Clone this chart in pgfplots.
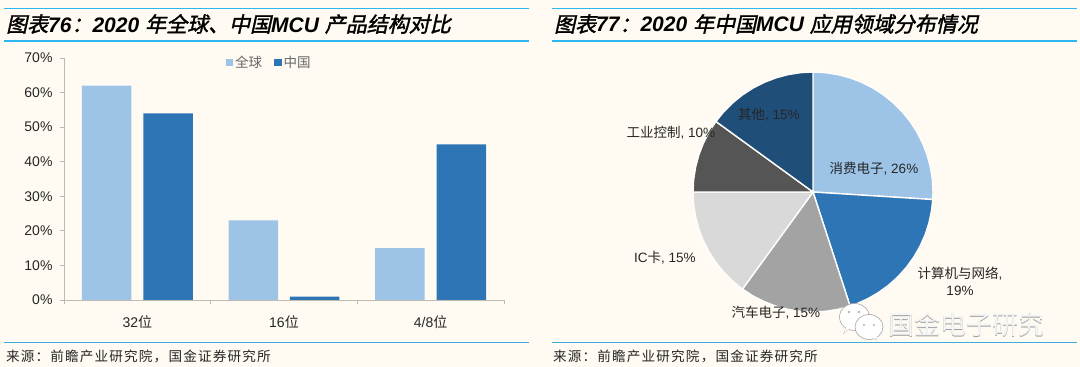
\documentclass[border=0pt]{standalone}
\usepackage{fontspec}
\usepackage{pgfplots}
\pgfplotsset{compat=1.18}
\setmainfont{Liberation Sans}
\newfontfamily\cjk{Noto Sans CJK SC}
\newfontfamily\cjktitle[FakeSlant=0.22,FakeBold=1.6]{Noto Sans CJK SC}
\newfontfamily\cjkspaced[LetterSpace=8.5]{Noto Sans CJK SC}
\definecolor{bgc}{HTML}{FFFBF2}
\definecolor{rulec}{HTML}{2DB7F0}
\definecolor{lightb}{HTML}{9DC3E6}
\definecolor{darkb}{HTML}{2E75B6}
\definecolor{navy}{HTML}{1F4E79}
\definecolor{gmid}{HTML}{A3A3A3}
\definecolor{glight}{HTML}{D9D9D9}
\definecolor{gdark}{HTML}{555555}
\definecolor{axisc}{HTML}{BDBAB2}
\definecolor{txt}{HTML}{262626}
\newcommand{\TT}[1]{{\cjktitle #1}}
\newcommand{\TL}[1]{{\bfseries\itshape #1}}
\begin{document}
\begin{tikzpicture}[x=1pt,y=1pt]
\path[use as bounding box,fill=bgc] (0,0) rectangle (1080,367);
% rules
\foreach \a/\b in {4/529,552/1077}{
  \draw[rulec,line width=1.2pt] (\a,358.5) -- (\b,358.5);
  \draw[rulec,line width=1.1pt] (\a,326) -- (\b,326);
  \draw[rulec!80!gray,line width=0.8pt] (\a,25) -- (\b,25);
}
% titles
\node[anchor=west,inner sep=0,font=\fontsize{21}{23}\selectfont,text=black] at (6,343)
 {\TT{图表}\TL{76}\TT{：}\TL{2020 }\TT{年全球、中国}\TL{MCU }\TT{产品结构对比}};
\node[anchor=west,inner sep=0,font=\fontsize{21}{23}\selectfont,text=black] at (554,343)
 {\TT{图表}\TL{77}\TT{：}\TL{2020 }\TT{年中国}\TL{MCU }\TT{应用领域分布情况}};
% sources
\node[anchor=west,inner sep=0,text=txt,font=\fontsize{13.6}{15}\selectfont] at (6,11) {\cjkspaced 来源：前瞻产业研究院，国金证券研究所};
\node[anchor=west,inner sep=0,text=txt,font=\fontsize{13.6}{15}\selectfont] at (553,11) {\cjkspaced 来源：前瞻产业研究院，国金证券研究所};
% bar chart
\begin{axis}[
  at={(64pt,67pt)},anchor=south west,scale only axis,width=440pt,height=242pt,
  xmin=-0.5,xmax=2.5,ymin=0,ymax=70,
  axis x line=bottom,axis y line=left,
  axis line style={-,axisc,line width=0.9pt},
  xtick={0,1,2},xticklabels={32{\cjk 位},16{\cjk 位},4/8{\cjk 位}},
  minor xtick={-0.5,0.5,1.5,2.5},
  ytick={0,10,20,30,40,50,60,70},
  yticklabels={0\%,10\%,20\%,30\%,40\%,50\%,60\%,70\%},
  tick style={axisc,line width=0.9pt},
  major x tick style={draw=none},
  major tick length=4pt,minor tick length=4pt,
  tick align=outside,
  ticklabel style={font=\fontsize{14}{16}\selectfont,text=txt},
  xticklabel style={yshift=-8pt},
  yticklabel style={xshift=-4pt},
  legend style={at={(0.36,1.024)},anchor=north west,draw=none,fill=none,legend columns=2,
    font=\fontsize{13.5}{15}\selectfont,text=gray!80!black,
    /tikz/every even column/.append style={column sep=10pt}},
  legend image code/.code={\fill[#1] (0pt,-3.5pt) rectangle (7.5pt,4pt);},
]
\addplot[ybar,bar width=49.5pt,bar shift=-30.7pt,fill=lightb,draw=none] coordinates {(0,62) (1,23) (2,15)};
\addlegendentry{\cjk 全球}
\addplot[ybar,bar width=49.5pt,bar shift=30.7pt,fill=darkb,draw=none] coordinates {(0,54) (1,1) (2,45)};
\addlegendentry{\cjk 中国}
\end{axis}
% pie chart
\begin{axis}[
  at={(813pt,175pt)},anchor=center,scale only axis,width=240pt,height=240pt,
  xmin=-1,xmax=1,ymin=-1,ymax=1,hide axis,clip=false,
]
\pgfplotsset{every axis plot/.append style={data cs=polar,draw=bgc!40!white,line width=1.4pt,line join=miter}}
\addplot[fill=lightb] coordinates {(0,0) (90,1) (84,1) (78,1) (72,1) (66,1) (60,1) (54,1) (48,1) (42,1) (36,1) (30,1) (24,1) (18,1) (12,1) (6,1) (0,1) (-3.6,1)} -- cycle;
\addplot[fill=darkb] coordinates {(0,0) (-3.6,1) (-9,1) (-15,1) (-21,1) (-27,1) (-33,1) (-39,1) (-45,1) (-51,1) (-57,1) (-63,1) (-69,1) (-72,1)} -- cycle;
\addplot[fill=gmid] coordinates {(0,0) (-72,1) (-78,1) (-84,1) (-90,1) (-96,1) (-102,1) (-108,1) (-114,1) (-120,1) (-126,1)} -- cycle;
\addplot[fill=glight] coordinates {(0,0) (-126,1) (-132,1) (-138,1) (-144,1) (-150,1) (-156,1) (-162,1) (-168,1) (-174,1) (-180,1)} -- cycle;
\addplot[fill=gdark] coordinates {(0,0) (-180,1) (-186,1) (-192,1) (-198,1) (-204,1) (-210,1) (-216,1)} -- cycle;
\addplot[fill=navy] coordinates {(0,0) (-216,1) (-222,1) (-228,1) (-234,1) (-240,1) (-246,1) (-252,1) (-258,1) (-264,1) (-270,1)} -- cycle;
\end{axis}
% pie labels
\begin{scope}[every node/.style={inner sep=0,text=txt,font=\fontsize{13.5}{15}\selectfont}]
\node at (874,198) {\cjk 消费电子{\normalfont, 26\%}};
\node at (769,252) {\cjk 其他{\normalfont, 15\%}};
\node at (671,234) {\cjk 工业控制{\normalfont, 10\%}};
\node at (665,109) {IC{\cjk 卡}, 15\%};
\node at (960,93) {\cjk 计算机与网络{\normalfont ,}};
\node at (960,76) {19\%};
\node at (776,54) {\cjk 汽车电子{\normalfont, 15\%}};
\end{scope}
% watermark
\begin{scope}[draw=gray!70,line width=0.6pt,fill=white]
\filldraw (844,34) -- (849,45) -- (853,41) -- cycle;
\filldraw (854.5,50) ellipse (15pt and 13.5pt);
\fill (844,34) -- (849,45) -- (853,41) -- cycle;
\filldraw (876,27) -- (879,37) -- (870,33) -- cycle;
\filldraw (869,40) ellipse (14pt and 12.5pt);
\fill (876,27) -- (879,37) -- (870,33) -- cycle;
\fill[gray!60] (849,55) circle (1.3pt) (859,55) circle (1.3pt) (864,42) circle (1.2pt) (874,42) circle (1.2pt);
\end{scope}
\node[anchor=west,inner sep=0,text=gray!75,font=\fontsize{26}{28}\selectfont] at (888.7,41.3) {\cjk 国金电子研究};
\node[anchor=west,inner sep=0,text=white!92!gray,font=\fontsize{26}{28}\selectfont] at (888,42) {\cjk 国金电子研究};
\end{tikzpicture}
\end{document}
